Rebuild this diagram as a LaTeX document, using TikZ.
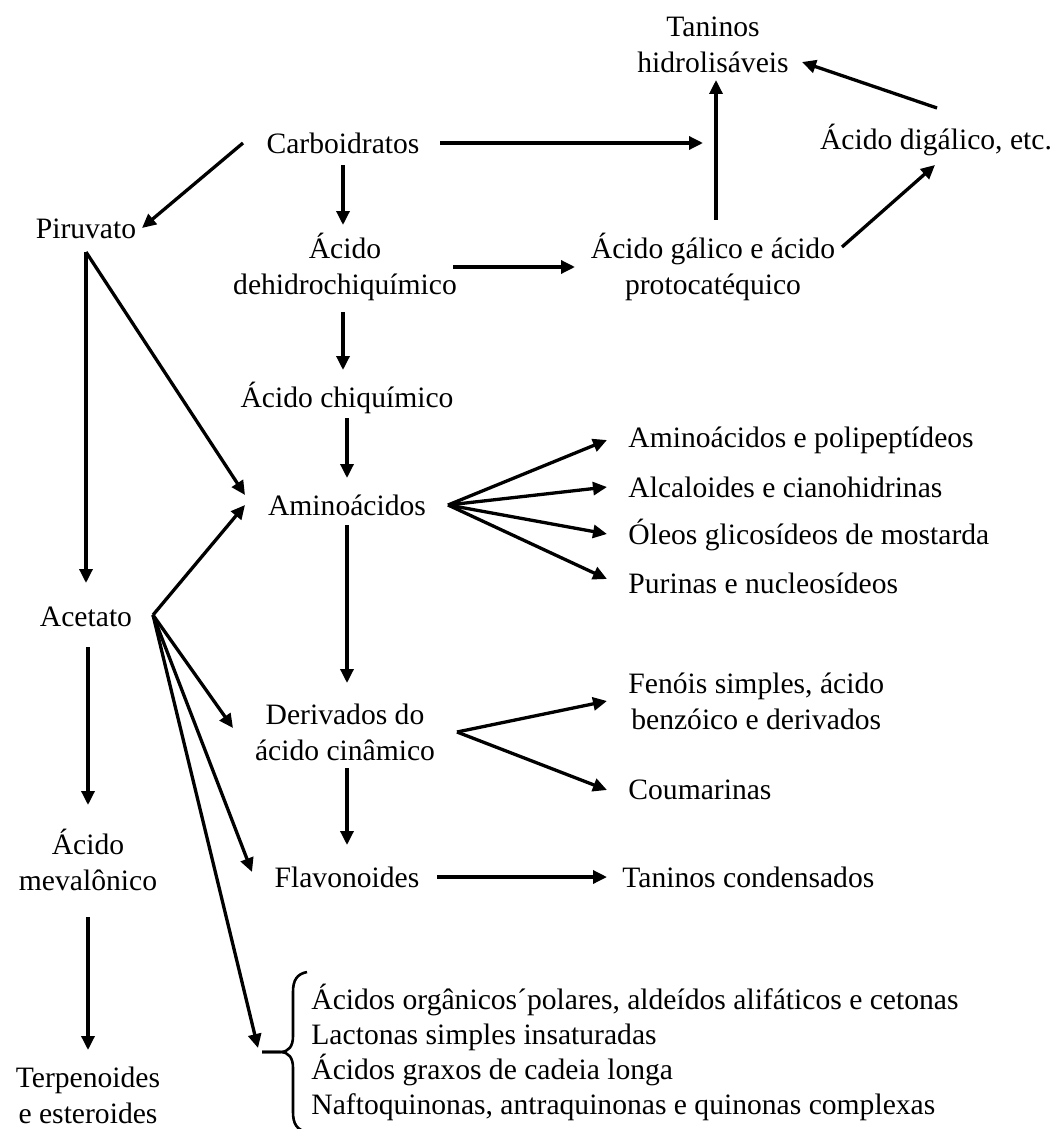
\documentclass[tikz,border=0pt]{standalone}
\usepackage{fontspec}
\setmainfont{Liberation Serif}
\usetikzlibrary{arrows.meta,calc}
\begin{document}
\begin{tikzpicture}[x=0.5pt,y=-0.5pt,
  lbl/.style={font=\fontsize{14.8}{18}\selectfont, align=center, inner sep=0pt},
  item/.style={lbl, anchor=west, align=left},
  arr/.style={line width=1.65pt, -{Triangle[length=7pt,width=6.5pt]}},
  bracestyle/.style={line width=1.3pt}]
\useasboundingbox (0,0) rectangle (1060,1129);

% nodes
\node[lbl] (tan) at (713,45) {Taninos\\hidrolisáveis};
\node[lbl] (dig) at (936,140) {Ácido digálico, etc.};
\node[lbl] (carb) at (343,143) {Carboidratos};
\node[lbl] (piru) at (86,229) {Piruvato};
\node[lbl] (dehi) at (345,267) {Ácido\\dehidrochiquímico};
\node[lbl] (gal) at (713,267) {Ácido gálico e ácido\\protocatéquico};
\node[lbl] (chiq) at (347,398) {Ácido chiquímico};
\node[lbl] (amino) at (347,505) {Aminoácidos};
\node[item] (aapp) at (628,440) {Aminoácidos e polipeptídeos};
\node[item] (alc) at (628,487) {Alcaloides e cianohidrinas};
\node[item] (oleo) at (628,535) {Óleos glicosídeos de mostarda};
\node[item] (pur) at (628,583) {Purinas e nucleosídeos};
\node[lbl] (acet) at (86,617) {Acetato};
\node[lbl] (deriv) at (345,732) {Derivados do\\ácido cinâmico};
\node[lbl, anchor=west] (fen) at (628,701) {Fenóis simples, ácido\\ benzóico e derivados};
\node[item] (coum) at (628,790) {Coumarinas};
\node[lbl] (flav) at (347,877) {Flavonoides};
\node[item] (tcond) at (622,877) {Taninos condensados};
\node[lbl] (mev) at (88,860) {Ácido\\mevalônico};
\node[lbl] (terp) at (88,1095) {Terpenoides\\e esteroides};
\node[item, font=\fontsize{14.8}{17.5}\selectfont] (list) at (311,1052)
  {Ácidos orgânicos´polares, aldeídos alifáticos e cetonas\\
   Lactonas simples insaturadas\\
   Ácidos graxos de cadeia longa\\
   Naftoquinonas, antraquinonas e quinonas complexas};

% brace
\coordinate (braceTip) at (262,1052);
\draw[bracestyle] (307,972) .. controls (297,974) and (293,980) .. (293,992)
  -- (293,1036) .. controls (293,1046) and (289,1052) .. (280,1052) -- (braceTip);
\draw[bracestyle] (braceTip) -- (280,1052) .. controls (289,1052) and (293,1058) .. (293,1068)
  -- (293,1112) .. controls (293,1124) and (297,1130) .. (307,1132);

% fan origins
\coordinate (acR) at ($(acet)+(67,-2)$);
\coordinate (amR) at ($(amino)+(101,0)$);
\coordinate (dvR) at ($(deriv)+(112,0)$);
\coordinate (piS) at ($(piru)+(0,23)$);

% arrows
\draw[arr] ($(carb)+(-100,0)$) -- ($(piru)+(56,-1)$);
\draw[arr] ($(carb)+(0,22)$) -- ($(carb|-dehi)+(0,-42)$);
\draw[arr] ($(carb)+(97,0)$) -- ($(gal|-carb)+(-10,0)$);
\draw[arr] ($(gal)+(3,-47)$) -- ($(tan)+(3,35)$);
\draw[arr] ($(dig)+(1,-32)$) -- ($(tan)+(89,17)$);
\draw[arr] ($(gal)+(129,-20)$) -- ($(dig)+(-1,25)$);
\draw[arr] ($(dehi)+(108,0)$) -- ($(gal)+(-138,0)$);
\draw[arr] ($(dehi)+(-2,45)$) -- ($(chiq)+(-4,-28)$);
\draw[arr] ($(chiq)+(0,20)$) -- ($(amino)+(0,-27)$);
\draw[arr] (piS) -- ($(acet)+(0,-34)$);
\draw[arr] (piS) -- ($(amino)+(-102,-10)$);
\draw[arr] (acR) -- ($(amino)+(-102,0)$);
\draw[arr] (acR) -- ($(deriv)+(-112,-4)$);
\draw[arr] (acR) -- ($(flav)+(-95,-5)$);
\draw[arr] (acR) -- ($(braceTip)+(-4,-4)$);
\draw[arr] ($(acet)+(2,30)$) -- ($(mev)+(0,-55)$);
\draw[arr] ($(mev)+(0,57)$) -- ($(terp)+(0,-45)$);
\draw[arr] (amR) -- ($(aapp.west)+(-21,0)$);
\draw[arr] (amR) -- ($(alc.west)+(-21,0)$);
\draw[arr] (amR) -- ($(oleo.west)+(-21,-1)$);
\draw[arr] (amR) -- ($(pur.west)+(-21,-4)$);
\draw[arr] ($(amino)+(0,20)$) -- ($(deriv)+(2,-49)$);
\draw[arr] (dvR) -- ($(fen.west)+(-21,0)$);
\draw[arr] (dvR) -- ($(coum.west)+(-21,0)$);
\draw[arr] ($(deriv)+(2,36)$) -- ($(flav)+(0,-32)$);
\draw[arr] ($(flav)+(90,0)$) -- ($(tcond.west)+(-15,0)$);
\end{tikzpicture}
\end{document}
